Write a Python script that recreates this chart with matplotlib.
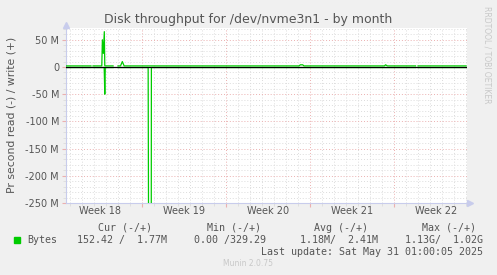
import numpy as np
import matplotlib.pyplot as plt
from matplotlib.ticker import MultipleLocator, FixedLocator, NullFormatter

# x is in days, 0 = start of week 19 (red gridline)
nan = np.nan

write_day = [-6.28, -4.23, -4.22, -4.06, -3.33, -3.28, -3.20, -3.12, -3.08, -2.39,
             -2.38, -1.98, -1.77, -1.62, -1.47, 13.10, 13.20, 13.40, 13.50, 20.20,
             20.30, 20.45, 22.80, 22.81, 23.00, 27.00]
write_val = [2.0e6, 2.0e6, nan, 2.0e6, 2.0e6, 50e6, 25e6, 65e6, 2.0e6, 2.0e6,
             nan, 2.0e6, 2.0e6, 10e6, 2.0e6, 2.0e6, 4.0e6, 4.0e6, 2.0e6, 2.0e6,
             4.0e6, 2.0e6, 2.0e6, nan, 2.0e6, 2.0e6]

read_day = [-6.28, -4.23, -4.22, -4.06, -3.13, -3.08, -3.04, -2.39, -2.38, -1.98,
            0.53, 0.60, 0.70, 0.77, 0.80, 22.80, 22.81, 23.00, 27.00]
read_val = [-1.0e6, -1.0e6, nan, -1.0e6, -1.0e6, -50e6, -1.0e6, -1.0e6, nan, -1.0e6,
            -1.0e6, -600e6, -1.13e9, -800e6, -1.0e6, -1.0e6, nan, -1.0e6, -1.0e6]

week_labels = ["Week 18", "Week 19", "Week 20", "Week 21", "Week 22"]
week_label_pos = [-3.5, 3.5, 10.5, 17.5, 24.5]
week_starts = [0, 7, 14, 21]
y_ticks = [50e6, 0, -50e6, -100e6, -150e6, -200e6, -250e6]
y_tick_labels = ["50 M", "0", "-50 M", "-100 M", "-150 M", "-200 M", "-250 M"]

legend_headers = ["Cur (-/+)", "Min (-/+)", "Avg (-/+)", "Max (-/+)"]
legend_values = ["152.42 /  1.77M", "0.00 /329.29", "1.18M/  2.41M", "1.13G/  1.02G"]

W, H = 497, 275
fig = plt.figure(figsize=(W / 100, H / 100), dpi=100, facecolor="#F0F0F0")
ax = fig.add_axes([66 / W, 1 - 203 / H, 401 / W, 175 / H], facecolor="white")

ax.set_xlim(-6.31, 27.08)
ax.set_ylim(-250e6, 71.7e6)

txt = "#555555"
mono = "DejaVu Sans Mono"

# grid
minor_c, major_c = "#DCDCDC", "#EBB0B0"
ax.xaxis.set_minor_locator(MultipleLocator(1))
ax.xaxis.set_major_locator(FixedLocator(week_starts))
ax.yaxis.set_minor_locator(MultipleLocator(10e6))
ax.yaxis.set_major_locator(FixedLocator(y_ticks))
ax.grid(which="minor", color=minor_c, linestyle=(0, (1, 2)), linewidth=0.7)
ax.grid(which="major", color=major_c, linestyle=(0, (1, 2)), linewidth=0.7)
ax.set_axisbelow(True)

ax.set_yticklabels(y_tick_labels)
ax.xaxis.set_major_formatter(NullFormatter())
ax.tick_params(axis="y", which="major", labelsize=7, labelcolor=txt, color=major_c, length=3, pad=2)
ax.tick_params(axis="y", which="minor", color=minor_c, length=2)
ax.tick_params(axis="x", which="major", color=major_c, length=3)
ax.tick_params(axis="x", which="minor", color=minor_c, length=2)
for p, lab in zip(week_label_pos, week_labels):
    ax.text(p, -255e6, lab, ha="center", va="top", fontsize=7, color=txt, clip_on=False)

for s in ["top", "right"]:
    ax.spines[s].set_visible(False)
for s in ["left", "bottom"]:
    ax.spines[s].set_color("#C8CCEC")
    ax.spines[s].set_linewidth(0.8)
ax.plot([0], [1.02], marker="^", color="#C8CCEC", markersize=4, transform=ax.transAxes, clip_on=False)
ax.plot([1.008], [0], marker=">", color="#C8CCEC", markersize=4, transform=ax.transAxes, clip_on=False)

# data
ax.plot(read_day, read_val, color="#00CC00", linewidth=0.9, zorder=3)
ax.axhline(0, color="black", linewidth=0.9, zorder=4)
ax.plot(write_day, write_val, color="#00CC00", linewidth=0.9, zorder=5)

# texts
fig.text(248 / W, 1 - 19 / H, "Disk throughput for /dev/nvme3n1 - by month",
         ha="center", va="center", fontsize=9, color=txt)
fig.text(12 / W, 1 - 115 / H, "Pr second read (-) / write (+)", rotation=90,
         ha="center", va="center", fontsize=7.8, color=txt)
fig.text(487 / W, 1 - 6 / H, "RRDTOOL / TOBI OETIKER", rotation=270,
         ha="center", va="top", fontsize=5.5, color="#C8C8C8")

hdr_right = [152, 261, 368, 476]
val_right = [167, 266, 378, 483]
for x, t in zip(hdr_right, legend_headers):
    fig.text(x / W, 1 - 228 / H, t, ha="right", va="center", fontsize=7.2,
             family=mono, color=txt)
fig.patches.append(plt.Rectangle((14 / W, 1 - 243 / H), 6 / W, 6 / H,
                                 transform=fig.transFigure, color="#00CC00"))
fig.text(27 / W, 1 - 240 / H, "Bytes", ha="left", va="center", fontsize=7.2,
         family=mono, color=txt)
for x, t in zip(val_right, legend_values):
    fig.text(x / W, 1 - 240 / H, t, ha="right", va="center", fontsize=7.2,
             family=mono, color=txt)
fig.text(483 / W, 1 - 252 / H, "Last update: Sat May 31 01:00:05 2025", ha="right",
         va="center", fontsize=7.2, family=mono, color=txt)
fig.text(248 / W, 1 - 264 / H, "Munin 2.0.75", ha="center", va="center",
         fontsize=5.5, color="#C8C8C8")

fig.savefig("out.png", dpi=100, facecolor=fig.get_facecolor())
